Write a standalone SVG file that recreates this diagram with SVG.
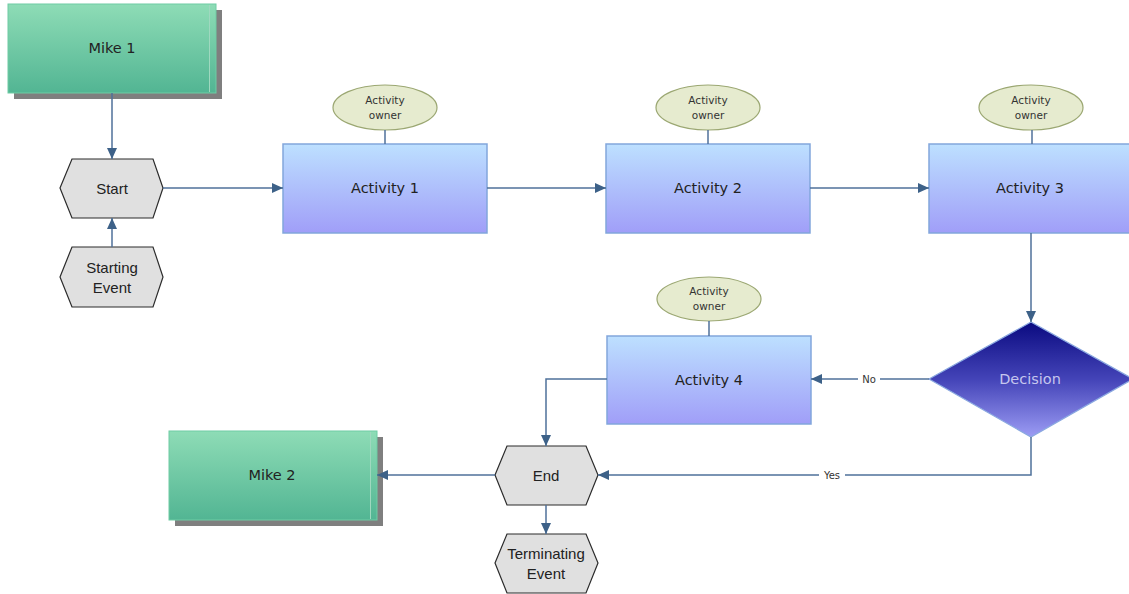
<svg xmlns="http://www.w3.org/2000/svg" width="1129" height="594" viewBox="0 0 1129 594">
<defs>
<linearGradient id="gGreen" x1="0" y1="0" x2="0" y2="1"><stop offset="0" stop-color="#8edcb6"/><stop offset="1" stop-color="#52b593"/></linearGradient>
<linearGradient id="gBlue" x1="0" y1="0" x2="0" y2="1"><stop offset="0" stop-color="#bde0ff"/><stop offset="1" stop-color="#a09ef8"/></linearGradient>
<linearGradient id="gDec" x1="0" y1="0" x2="0" y2="1"><stop offset="0" stop-color="#0a0a80"/><stop offset="0.5" stop-color="#4444b8"/><stop offset="1" stop-color="#9c9cf4"/></linearGradient>
<marker id="arr" viewBox="0 0 11 10" refX="11" refY="5" markerWidth="11" markerHeight="10" markerUnits="userSpaceOnUse" orient="auto-start-reverse"><path d="M0,0 L11,5 L0,10 z" fill="#3d6188"/></marker>
</defs>
<style>
.shadow{fill:#7f7f7f}
.mike{fill:url(#gGreen);stroke:#6fcca4;stroke-width:1}
.inner{stroke:#9fd8bf;stroke-width:1}
.act{fill:url(#gBlue);stroke:#82a6dc;stroke-width:1.5}
.hex{fill:#e0e0e0;stroke:#2b2b2b;stroke-width:1.2}
.own{fill:#e6ebcf;stroke:#9ba772;stroke-width:1.2}
.conn{fill:none;stroke:#4f719a;stroke-width:1.5}
.t{font-family:"DejaVu Sans",Verdana,sans-serif;fill:#222;text-anchor:middle;dominant-baseline:central}
.ta{font-family:"Liberation Sans",Arial,sans-serif;fill:#222;text-anchor:middle;dominant-baseline:central}
.big{font-size:14.5px}
.hx{font-size:15px}
.sm{font-size:10.5px;fill:#333}
.lbl{font-family:"DejaVu Sans",Verdana,sans-serif;font-size:10px;fill:#333;text-anchor:middle;dominant-baseline:central}
</style>
<g id="mike1">
<rect class="shadow" x="14" y="10" width="208" height="89"/>
<rect class="mike" x="8" y="4" width="208" height="89"/>
<line class="inner" x1="209.5" y1="5" x2="209.5" y2="92"/>
<text class="t big" x="112" y="48">Mike 1</text>
</g>
<g id="start">
<polygon class="hex" points="60,188 72,159 153,159 163,188 153,218 72,218"/>
<text class="ta hx" x="112" y="188">Start</text>
</g>
<g id="starting-event">
<polygon class="hex" points="60,277 72,247 153,247 163,277 153,307 72,307"/>
<text class="ta hx" x="112" y="267">Starting</text>
<text class="ta hx" x="112" y="287">Event</text>
</g>
<g id="activity1">
<rect class="act" x="283" y="144" width="204" height="89"/>
<text class="t big" x="385" y="188">Activity 1</text>
</g>
<g id="owner1">
<ellipse class="own" cx="385" cy="107.5" rx="52" ry="22.5"/>
<text class="t sm" x="385" y="100">Activity</text>
<text class="t sm" x="385" y="115">owner</text>
</g>
<g id="activity2">
<rect class="act" x="606" y="144" width="204" height="89"/>
<text class="t big" x="708" y="188">Activity 2</text>
</g>
<g id="owner2">
<ellipse class="own" cx="708" cy="107.5" rx="52" ry="22.5"/>
<text class="t sm" x="708" y="100">Activity</text>
<text class="t sm" x="708" y="115">owner</text>
</g>
<g id="activity3">
<rect class="act" x="929" y="144" width="204" height="89"/>
<text class="t big" x="1030" y="188">Activity 3</text>
</g>
<g id="owner3">
<ellipse class="own" cx="1031" cy="107.5" rx="52" ry="22.5"/>
<text class="t sm" x="1031" y="100">Activity</text>
<text class="t sm" x="1031" y="115">owner</text>
</g>
<g id="decision">
<polygon points="929,379 1031,322 1133,379 1031,437" fill="url(#gDec)" stroke="#8aa8e0" stroke-width="1.2"/>
<text class="t big" x="1030" y="379" style="fill:#c6c6ee">Decision</text>
</g>
<g id="activity4">
<rect class="act" x="607" y="336" width="204" height="88"/>
<text class="t big" x="709" y="380">Activity 4</text>
</g>
<g id="owner4">
<ellipse class="own" cx="709" cy="299" rx="52" ry="22"/>
<text class="t sm" x="709" y="291">Activity</text>
<text class="t sm" x="709" y="306">owner</text>
</g>
<g id="end">
<polygon class="hex" points="495,475 507,446 586,446 598,475 586,505 507,505"/>
<text class="ta hx" x="546" y="475">End</text>
</g>
<g id="terminating-event">
<polygon class="hex" points="495,563 507,534 586,534 598,563 586,593 507,593"/>
<text class="ta hx" x="546" y="553">Terminating</text>
<text class="ta hx" x="546" y="573">Event</text>
</g>
<g id="mike2">
<rect class="shadow" x="175" y="437" width="208" height="89"/>
<rect class="mike" x="169" y="431" width="208" height="89"/>
<line class="inner" x1="370.5" y1="432" x2="370.5" y2="519"/>
<text class="t big" x="272" y="475">Mike 2</text>
</g>
<g id="connectors">
<line class="conn" x1="112" y1="93" x2="112" y2="159" marker-end="url(#arr)"/>
<line class="conn" x1="112" y1="247" x2="112" y2="218" marker-end="url(#arr)"/>
<line class="conn" x1="163" y1="188" x2="283" y2="188" marker-end="url(#arr)"/>
<line class="conn" x1="487" y1="188" x2="606" y2="188" marker-end="url(#arr)"/>
<line class="conn" x1="810" y1="188" x2="929" y2="188" marker-end="url(#arr)"/>
<line class="conn" x1="1031" y1="233" x2="1031" y2="322" marker-end="url(#arr)"/>
<line class="conn" x1="929" y1="379" x2="811" y2="379" marker-end="url(#arr)"/>
<polyline class="conn" points="1031,437 1031,475 598,475" marker-end="url(#arr)"/>
<polyline class="conn" points="607,379 546,379 546,446" marker-end="url(#arr)"/>
<line class="conn" x1="495" y1="475" x2="377" y2="475" marker-end="url(#arr)"/>
<line class="conn" x1="546" y1="505" x2="546" y2="534" marker-end="url(#arr)"/>
<line class="conn" x1="385" y1="130" x2="385" y2="144"/>
<line class="conn" x1="708" y1="130" x2="708" y2="144"/>
<line class="conn" x1="1032" y1="130" x2="1032" y2="144"/>
<line class="conn" x1="709" y1="321" x2="709" y2="336"/>
<rect x="858" y="372" width="22" height="14" fill="#fff"/>
<text class="lbl" x="869" y="379">No</text>
<rect x="819" y="468" width="26" height="14" fill="#fff"/>
<text class="lbl" x="832" y="475">Yes</text>
</g>
</svg>
